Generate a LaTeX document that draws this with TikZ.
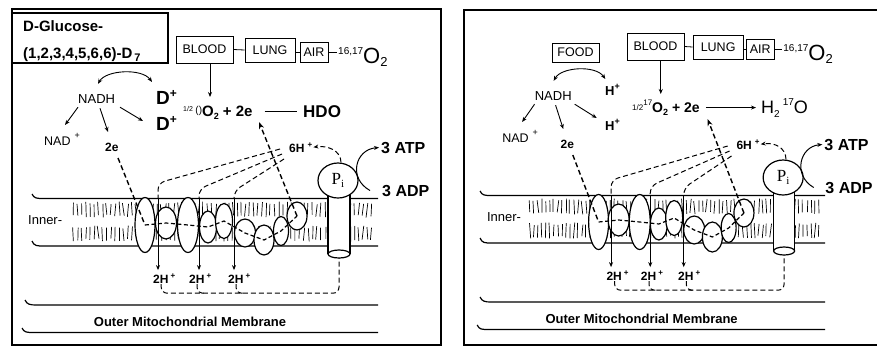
\documentclass[tikz,border=0pt]{standalone}
\usepackage{fontspec}
\setmainfont{Liberation Sans}
\newfontfamily\serifP{Liberation Serif}
\usetikzlibrary{arrows.meta,shapes.geometric,calc}

\newcommand\fs[1]{\fontsize{#1}{#1}\selectfont}

\tikzset{
  every node/.style={inner sep=1pt, font=\fs{12}},
  lbl/.style={anchor=base west},
  organ/.style={draw, line width=0.8pt, font=\fs{12.5}, inner sep=0pt},
  frame/.style={line width=1.5pt},
  mline/.style={line width=1.2pt},
  hatchln/.style={line width=0.7pt},
  cplx/.style={draw, ellipse, fill=white, line width=1.2pt, inner sep=0pt},
  arr/.style={line width=0.9pt, -{Stealth[length=5pt,width=4pt]}},
  dblarr/.style={line width=0.9pt, {Stealth[length=5pt,width=4pt]}-{Stealth[length=5pt,width=4pt]}},
  edash/.style={line width=1.4pt, dash pattern=on 5pt off 3pt},
  hdash/.style={line width=1pt, dash pattern=on 5pt off 3pt},
  chain/.style={line width=1.2pt, dash pattern=on 4pt off 2.5pt},
}

% Shared mitochondrion scheme: #1 = left end of inner membrane lines,
% #2 = right end of membrane lines, #3 = left end of outer membrane lines
\newcommand\mitopanel[3]{%
  % oxygen supply route
  \node[organ, minimum width=57, minimum height=27] (blood) at (204.5,49.5) {BLOOD};
  \node[organ, minimum width=50, minimum height=24] (lung) at (270,50) {LUNG};
  \node[organ, minimum width=28, minimum height=20] (air) at (314,52) {AIR};
  \node[lbl] (oxy) at (337,63) {\raisebox{9pt}{\fs{10}16,17}\fs{22}O\raisebox{-3pt}{\fs{13}2}};
  \draw[line width=0.8pt] (blood.east) -- (lung.west);
  \draw[line width=0.8pt] (lung.east |- air.west) -- (air.west);
  \draw[line width=0.8pt] (air.east) -- (air.east -| oxy.west);
  \coordinate (o2in) at (210,97);
  \draw[arr] (blood.south -| o2in) -- (o2in);
  % NADH oxidation
  \node[lbl, font=\fs{13}] (nadh) at (77,103) {NADH};
  \node[lbl, font=\fs{12.5}] (nad) at (43,145) {NAD\hspace{4pt}\raisebox{7pt}{\fs{9}+}};
  \node[lbl, font=\bfseries\fs{12}] (e2) at (104,151) {2e};
  \coordinate (arcend) at (152,82);
  \coordinate (lowin) at (143,121);
  \coordinate (o2e) at (259,122);
  \draw[dblarr] ([shift={(21,-9)}]nadh.north west) .. controls +(8,-14) and +(-10,-14) .. (arcend);
  \draw[arr] ([shift={(1,3)}]nadh.south west) -- ([shift={(22,-20)}]nad.base west);
  \draw[arr] ([shift={(23,4)}]nadh.south west) -- ([shift={(4,-19)}]e2.base west);
  \draw[arr] ([shift={(43,3)}]nadh.south west) -- (lowin);
  % inner membrane
  \draw[mline] (#1,194) .. controls (#1+2,198.5) and (#1+5,198.5) .. (#1+12,198.5) -- (#2,198.5);
  \draw[mline] (#1,241) .. controls (#1+2,246) and (#1+5,246) .. (#1+12,246) -- (#2,246);
  \pgfmathsetmacro\hend{#2-3}
  \foreach \hx in {73,77.2,...,\hend}{
    \draw[hatchln] (\hx+rand,203+1.5*rand) -- (\hx+rand,216+1.5*rand);
    \draw[hatchln] (\hx+rand,227+1.5*rand) -- (\hx+rand,240+1.5*rand);
  }
  \node[lbl, font=\fs{13}] (inner) at (27,224) {Inner-};
  % ATP synthase stalk and head
  \fill[white] (328,192) rectangle (350,254);
  \draw[mline] (328,192) -- (328,254) (350,192) -- (350,254);
  \draw[mline, fill=white] (339,254) ellipse [x radius=11, y radius=4];
  \coordinate (stb) at (339,258);
  \node[cplx, minimum width=40, minimum height=35] (pi) at (338,180.5)
    {\serifP\fs{17}P\raisebox{-3pt}{\fs{11}i}};
  % respiratory chain complexes
  \node[cplx, minimum width=20, minimum height=55] (c1) at (145,225) {};
  \node[cplx, minimum width=21, minimum height=32] (c2) at (166,223) {};
  \node[cplx, minimum width=21, minimum height=55] (c3) at (188,225) {};
  \node[cplx, minimum width=17, minimum height=32] (c4) at (208,227) {};
  \node[cplx, minimum width=17, minimum height=35] (c5) at (224,221) {};
  \node[cplx, minimum width=21, minimum height=28] (c6) at (245,233) {};
  \node[cplx, minimum width=20, minimum height=30] (c7) at (264,240) {};
  \node[cplx, minimum width=15, minimum height=29] (c8) at (281,231) {};
  \node[cplx, minimum width=20, minimum height=28] (c9) at (297,216) {};
  % electron path
  \draw[chain] (c1.center) -- (c2.center) -- (c3.center) -- (c4.center) -- (c5.center)
    -- (c6.center) -- (c7.center) -- (c8.center) -- (c9.center);
  \draw[edash] ([shift={(14,7)}]e2.base west) -- (c1.center);
  \draw[edash, -{Stealth[length=7pt,width=5pt]}] (c9.center) -- (o2e);
  % proton pumping
  \node[lbl, font=\bfseries\fs{12}] (h6) at (288,152) {6H\hspace{3pt}\raisebox{5pt}{\fs{8}+}};
  \node[lbl, font=\bfseries\fs{12}] (h1) at (152,283) {2H\hspace{2pt}\raisebox{5pt}{\fs{8}+}};
  \node[lbl, font=\bfseries\fs{12}] (h2) at (188,283) {2H\hspace{2pt}\raisebox{5pt}{\fs{8}+}};
  \node[lbl, font=\bfseries\fs{12}] (h3) at (227,283) {2H\hspace{2pt}\raisebox{5pt}{\fs{8}+}};
  \coordinate (fa) at (280,149); \coordinate (fb) at (282,154); \coordinate (fc) at (284,159);
  \coordinate (va) at (158,198); \coordinate (vb) at (199,198); \coordinate (vc) at (234,198);
  \draw[hdash, rounded corners=7pt] (fa) -- (158,183) -- (va);
  \draw[hdash, rounded corners=7pt] (fb) -- (199,189) -- (vb);
  \draw[hdash, rounded corners=7pt] (fc) -- (234,191) -- (vc);
  \draw[arr, line width=0.8pt, shorten >=2pt] (va) -- (va |- h1.north);
  \draw[arr, line width=0.8pt, shorten >=2pt] (vb) -- (vb |- h2.north);
  \draw[arr, line width=0.8pt, shorten >=2pt] (vc) -- (vc |- h3.north);
  \draw[hdash, rounded corners=6pt] ([xshift=-3pt]h1.south) -- ++(0,9) -| (stb);
  \draw[hdash, rounded corners=5pt] ([xshift=-3pt]h2.south) -- ++(0,9) -- ++(8,0);
  \draw[hdash, rounded corners=5pt] ([xshift=-3pt]h3.south) -- ++(0,9) -- ++(8,0);
  \draw[hdash, -{Stealth[length=5pt,width=4pt]}] ([xshift=3pt]pi.north)
    .. controls +(0,-12) and +(14,-2) .. (h6.east);
  % phosphorylation
  \node[lbl, font=\bfseries\fs{16}] (atp) at (380,153) {3 ATP};
  \node[lbl, font=\bfseries\fs{16}] (adp) at (381,196) {3 ADP};
  \draw[arr, line width=1pt] ([xshift=-11pt]adp.west) .. controls +(-22,-12) and +(-24,2) .. ([xshift=-1pt]atp.west);
  % outer membrane
  \draw[mline] (#3,300) .. controls (#3+2,304.5) and (#3+5,305) .. (#3+12,305) -- (#2,305);
  \draw[mline] (#3-3,328) .. controls (#3-1,332.5) and (#3+2,332.5) .. (#3+9,332.5) -- (#2,332.5);
  \node[anchor=base, font=\bfseries\fs{13}] (outer) at (190,326) {Outer Mitochondrial Membrane};
}

\begin{document}
\begin{tikzpicture}[x=1pt,y=-1pt]
  \fill[white] (0,0) rectangle (877,349);
  \useasboundingbox (0,0) rectangle (877,349);
  \pgfmathsetseed{11}

  % ---- deuterated glucose panel ----
  \draw[frame] (12,9) rectangle (441,345);
  \begin{scope}
    \mitopanel{32}{378}{25}
  \end{scope}
  \draw[line width=1.3pt] (12,13) rectangle (168,63);
  \node[lbl, font=\bfseries\fs{15}] (glc1) at (22,31) {D-Glucose-};
  \node[lbl, font=\bfseries\fs{15}] (glc2) at (22,58) {(1,2,3,4,5,6,6)-D\hspace{2pt}\raisebox{-3pt}{\fs{11}7}};
  \node[lbl, font=\bfseries\fs{19}] (dpu) at (155,104) {D\raisebox{7pt}{\fs{12}+}};
  \node[lbl, font=\bfseries\fs{19}] (dpl) at (155,130) {D\raisebox{7pt}{\fs{12}+}};
  \node[lbl, font=\bfseries\fs{15}] (eqL) at (182,116)
    {\raisebox{5pt}{\mdseries\fs{7}1/2}\,\raisebox{3pt}{\mdseries\fs{10}()}O\raisebox{-3pt}{\fs{9}2} + 2e};
  \node[lbl, font=\bfseries\fs{17}] (hdo) at (302,117) {HDO};
  \draw[line width=1pt] ($(eqL.east |- hdo.west)+(11,0)$) -- ([xshift=-5pt]hdo.west);

  % ---- labelled oxygen panel ----
  \draw[frame] (877,10) -- (464,10) -- (464,345) -- (877,345);
  \begin{scope}[shift={(460,-3)}, xscale=0.956, name prefix=R-]
    \mitopanel{21}{382}{21}
  \end{scope}
  \node[organ, minimum width=47, minimum height=19] (food) at (575.5,52.5) {FOOD};
  \node[lbl, font=\bfseries\fs{13}] (hpu) at (604,95) {H\raisebox{6pt}{\fs{9}+}};
  \node[lbl, font=\bfseries\fs{13}] (hpl) at (604,130) {H\raisebox{6pt}{\fs{9}+}};
  \node[lbl, font=\bfseries\fs{14}] (eqR) at (631,112)
    {\raisebox{2pt}{\mdseries\fs{8}1/2}\raisebox{7pt}{\mdseries\fs{8}17}O\raisebox{-3pt}{\fs{9}2} + 2e};
  \node[lbl, font=\fs{18}] (h2o) at (760,113) {H\raisebox{-4pt}{\fs{10}2}\,\raisebox{8pt}{\fs{10}17}O};
  \draw[arr] ($(eqR.east |- h2o.west)+(5,0)$) -- ([xshift=-4pt]h2o.west);
\end{tikzpicture}
\end{document}
